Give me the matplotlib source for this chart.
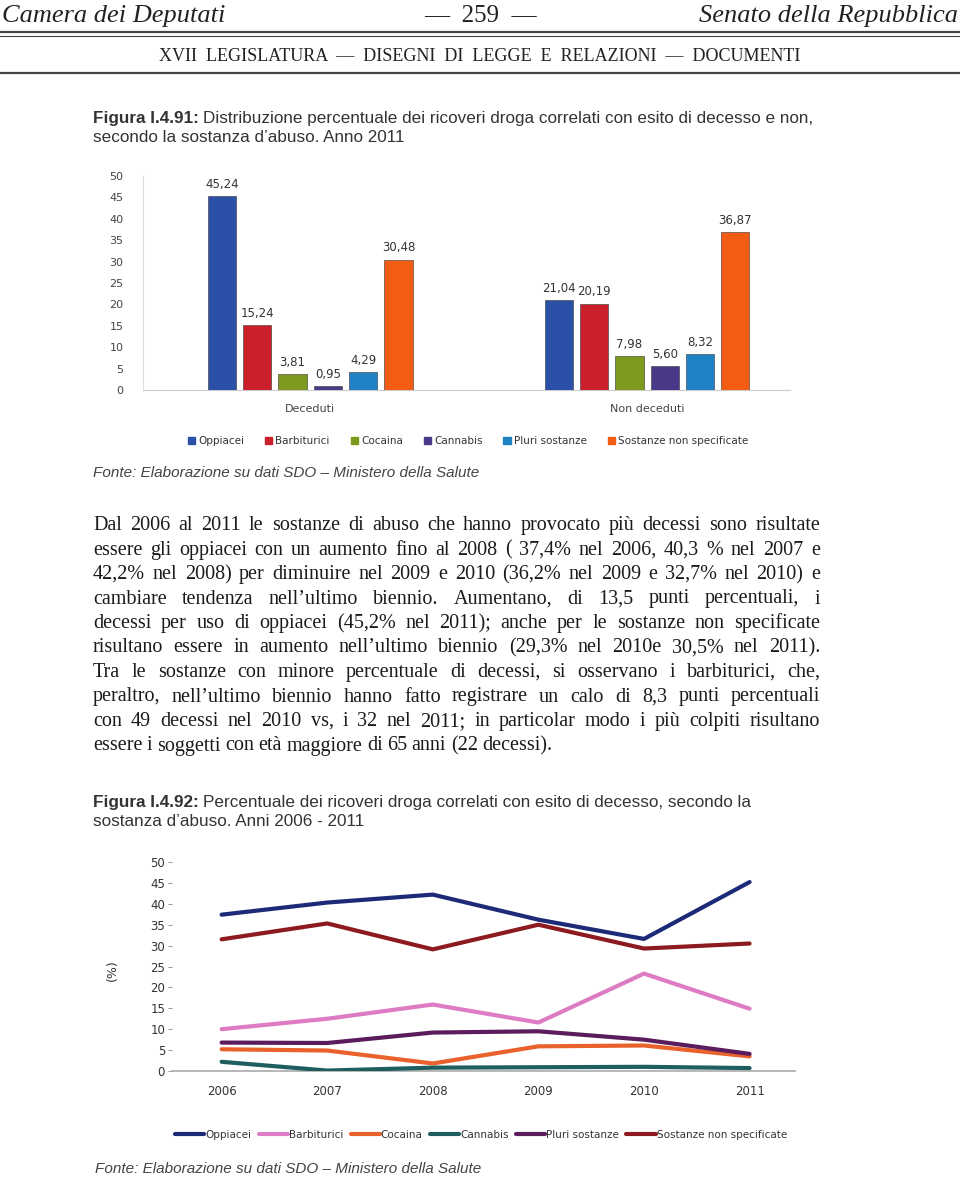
import matplotlib
matplotlib.use('Agg')
import matplotlib.pyplot as plt
from matplotlib.lines import Line2D
import numpy as np

W, H = 960, 1177

# --- data: figure 1.4.91 (bars) ---
groups = ['Deceduti', 'Non deceduti']
substances = ['Oppiacei', 'Barbiturici', 'Cocaina', 'Cannabis',
              'Pluri sostanze', 'Sostanze non specificate']
deceduti = [45.24, 15.24, 3.81, 0.95, 4.29, 30.48]
non_deceduti = [21.04, 20.19, 7.98, 5.60, 8.32, 36.87]
bar_colors = ['#2b50a8', '#c9202b', '#7e9a1c', '#4a3888', '#1f82c4', '#f25c14']

# --- data: figure 1.4.92 (lines) ---
years = [2006, 2007, 2008, 2009, 2010, 2011]
oppiacei = [37.4, 40.3, 42.2, 36.2, 31.6, 45.2]
barbiturici = [10.0, 12.5, 15.9, 11.6, 23.3, 14.9]
cocaina = [5.2, 4.9, 1.8, 5.9, 6.1, 3.5]
cannabis = [2.2, 0.1, 0.8, 0.9, 1.0, 0.7]
pluri = [6.8, 6.7, 9.2, 9.5, 7.5, 4.1]
non_spec = [31.5, 35.3, 29.1, 35.0, 29.3, 30.5]
line_labels = ['Oppiacei', 'Barbiturici', 'Cocaina', 'Cannabis',
               'Pluri sostanze', 'Sostanze non specificate']
line_colors = ['#1d2a78', '#dd7cc2', '#e9622c', '#1f5e5e', '#5b1c5e', '#8c1a1e']

paragraph = [
    "Dal 2006 al 2011 le sostanze di abuso che hanno provocato più decessi sono risultate",
    "essere gli oppiacei con un aumento fino al 2008 ( 37,4% nel 2006, 40,3 % nel 2007 e",
    "42,2% nel 2008) per diminuire nel 2009 e 2010 (36,2% nel 2009 e 32,7% nel 2010) e",
    "cambiare tendenza nell’ultimo biennio. Aumentano, di 13,5 punti percentuali, i",
    "decessi per uso di oppiacei (45,2% nel 2011); anche per le sostanze non specificate",
    "risultano essere in aumento nell’ultimo biennio (29,3% nel 2010e 30,5% nel 2011).",
    "Tra le sostanze con minore percentuale di decessi, si osservano i barbiturici, che,",
    "peraltro, nell’ultimo biennio hanno fatto registrare un calo di 8,3 punti percentuali",
    "con 49 decessi nel 2010 vs, i 32 nel 2011; in particolar modo i più colpiti risultano",
    "essere i soggetti con età maggiore di 65 anni (22 decessi).",
]

fig = plt.figure(figsize=(W / 100, H / 100), dpi=100)
fig.patch.set_facecolor('white')
renderer = fig.canvas.get_renderer()


def fx(x):
    return x / W


def fy(y):
    return 1 - y / H


def hline(y, x0=0, x1=W, lw=1.0, color='#444444'):
    fig.add_artist(Line2D([fx(x0), fx(x1)], [fy(y), fy(y)], lw=lw, color=color,
                          transform=fig.transFigure))


def width_of(t):
    return t.get_window_extent(renderer).width


# header
serif = 'Liberation Serif'
fig.text(fx(2), fy(22), 'Camera dei Deputati', family=serif, style='italic',
         fontsize=19, va='baseline', ha='left', color='#222222')
fig.text(fx(480), fy(22), '—  259  —', family=serif, fontsize=18,
         va='baseline', ha='center', color='#222222')
fig.text(fx(958), fy(22), 'Senato della Repubblica', family=serif, style='italic',
         fontsize=19, va='baseline', ha='right', color='#222222')
hline(32, lw=1.6)
hline(36, lw=0.8)
fig.text(fx(480), fy(61), 'XVII  LEGISLATURA  —  DISEGNI  DI  LEGGE  E  RELAZIONI  —  DOCUMENTI',
         family=serif, fontsize=13, va='baseline', ha='center', color='#222222')
hline(73, lw=1.6)


def caption(y, bold, rest, size=12.3):
    t = fig.text(fx(93), fy(y), bold, family='Liberation Sans', weight='bold',
                 fontsize=size, va='baseline', color='#333333')
    w = width_of(t)
    fig.text(fx(93 + w + 4), fy(y), rest, family='Liberation Sans',
             fontsize=size, va='baseline', color='#333333')


caption(123, 'Figura I.4.91:', 'Distribuzione percentuale dei ricoveri droga correlati con esito di decesso e non,')
fig.text(fx(93), fy(142), 'secondo la sostanza d’abuso. Anno 2011', family='Liberation Sans',
         fontsize=12.3, va='baseline', color='#333333')

# --- bar chart ---
ax1 = fig.add_axes([fx(143), fy(390), fx(790) - fx(143), (390 - 176) / H])
step = 9.55
for i, (vals, gx) in enumerate([(deceduti, 0.0), (non_deceduti, step)]):
    xs = gx + np.arange(len(vals))
    ax1.bar(xs, vals, width=0.8, color=bar_colors, edgecolor='#333333',
            linewidth=0.4, zorder=3)
    for x, v in zip(xs, vals):
        ax1.text(x, v + 1.2, f'{v:.2f}'.replace('.', ','), ha='center', va='bottom',
                 fontsize=8.5, color='#333333')
    ax1.text(gx + 2.5, -3.2, groups[i], ha='center', va='top', fontsize=8, color='#444444')
ax1.set_xlim(-2.24, 16.1)
ax1.set_ylim(0, 50)
ax1.set_yticks(np.arange(0, 51, 5))
ax1.set_xticks([])
ax1.tick_params(axis='y', length=0, labelsize=8, labelcolor='#444444', pad=14)
for s in ['top', 'right']:
    ax1.spines[s].set_visible(False)
ax1.spines['left'].set_color('#dddddd')
ax1.spines['bottom'].set_color('#cccccc')
handles = [plt.Rectangle((0, 0), 1, 1, color=c) for c in bar_colors]
fig.legend(handles, substances, loc='center', bbox_to_anchor=(fx(468), fy(441)), ncol=6,
           frameon=False, fontsize=7.5, handlelength=0.7, handleheight=0.7,
           handletextpad=0.3, columnspacing=2.0, labelcolor='#333333')

fig.text(fx(93), fy(477), 'Fonte: Elaborazione su dati SDO – Ministero della Salute',
         family='Liberation Sans', style='italic', fontsize=11, va='baseline', color='#444444')

# --- paragraph, justified ---
x0, x1 = 93, 820
for i, line in enumerate(paragraph):
    y = 530 + i * 24.5
    words = line.split()
    ts = [fig.text(0, fy(y), w, family=serif, fontsize=14.5, va='baseline', color='#1a1a1a')
          for w in words]
    ws = [width_of(t) for t in ts]
    if i == len(paragraph) - 1:
        gap = 4.5
    else:
        gap = max((x1 - x0 - sum(ws)) / (len(words) - 1), 2.5)
    x = x0
    for t, w in zip(ts, ws):
        t.set_x(fx(x))
        x += w + gap

caption(807, 'Figura I.4.92:', 'Percentuale dei ricoveri droga correlati con esito di decesso, secondo la')
fig.text(fx(93), fy(826), 'sostanza d’abuso. Anni 2006 - 2011', family='Liberation Sans',
         fontsize=12.3, va='baseline', color='#333333')

# --- line chart ---
ax2 = fig.add_axes([fx(172), fy(1071), fx(795) - fx(172), (1071 - 862) / H])
series = [oppiacei, barbiturici, cocaina, cannabis, pluri, non_spec]
for vals, c, lab in zip(series, line_colors, line_labels):
    ax2.plot(years, vals, color=c, lw=3, label=lab, solid_capstyle='round', zorder=3)
ax2.set_xlim(2005.53, 2011.43)
ax2.set_ylim(0, 50)
ax2.set_yticks(np.arange(0, 51, 5))
ax2.set_xticks(years)
ax2.tick_params(axis='y', length=3, width=0.6, color='#888888', labelsize=8.5,
                labelcolor='#333333', direction='out', pad=2)
ax2.tick_params(axis='x', length=0, labelsize=8.5, labelcolor='#333333', pad=10)
for s in ['top', 'right']:
    ax2.spines[s].set_visible(False)
ax2.spines['left'].set_visible(False)
ax2.spines['bottom'].set_color('#aaaaaa')
ax2.spines['bottom'].set_linewidth(1.2)
fig.text(fx(112), fy(970), '(%)', rotation=90, ha='center', va='center',
         fontsize=9, color='#333333')
fig.legend(*ax2.get_legend_handles_labels(), loc='center', bbox_to_anchor=(fx(481), fy(1135)),
           ncol=6, frameon=False, fontsize=7.5, handlelength=2.8, handletextpad=0.1,
           columnspacing=0.7, labelcolor='#333333')

fig.text(fx(95), fy(1173), 'Fonte: Elaborazione su dati SDO – Ministero della Salute',
         family='Liberation Sans', style='italic', fontsize=11, va='baseline', color='#444444')

fig.savefig('out.png', dpi=100, facecolor='white')
